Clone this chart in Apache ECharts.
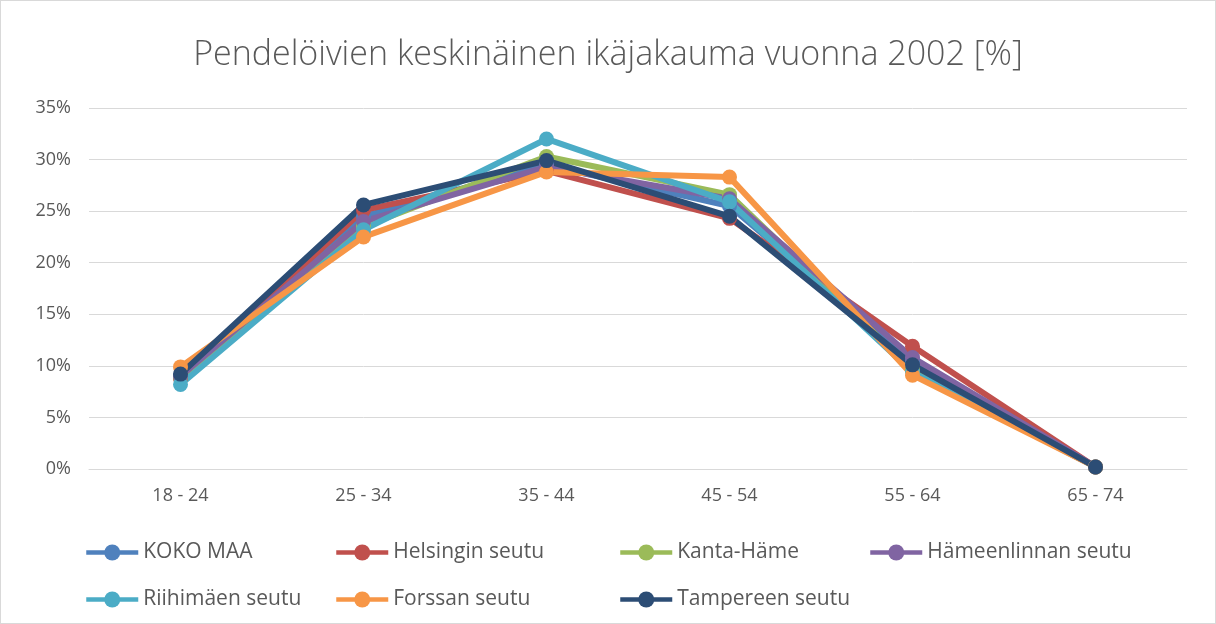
<!DOCTYPE html>
<html>
<head>
<meta charset="utf-8">
<script src="https://cdn.jsdelivr.net/npm/echarts@6/dist/echarts.min.js"></script>
<style>
  html, body { margin: 0; padding: 0; background: #fff; }
  #chart { width: 1216px; height: 624px; box-sizing: border-box; border: 1px solid #d9d9d9; }
</style>
</head>
<body>
<div id="chart"></div>
<script>
  const categories = ['18 - 24', '25 - 34', '35 - 44', '45 - 54', '55 - 64', '65 - 74']
  const yTicks = [0, 5, 10, 15, 20, 25, 30, 35]

  const kokoMaa = [8.9, 24.5, 29.5, 25.5, 10.5, 0.2]
  const helsinki = [8.8, 25.1, 28.9, 24.3, 11.9, 0.2]
  const kantaHame = [8.9, 23.5, 30.3, 26.6, 9.6, 0.2]
  const hameenlinna = [9.0, 24.0, 29.3, 26.2, 10.8, 0.2]
  const riihimaki = [8.2, 23.2, 32.0, 25.9, 9.4, 0.2]
  const forssa = [9.9, 22.5, 28.8, 28.3, 9.1, 0.2]
  const tampere = [9.2, 25.6, 29.9, 24.5, 10.1, 0.2]

  const seriesDefs = [
    { name: 'KOKO MAA', data: kokoMaa, color: '#4F81BD' },
    { name: 'Helsingin seutu', data: helsinki, color: '#C0504D' },
    { name: 'Kanta-Häme', data: kantaHame, color: '#9BBB59' },
    { name: 'Hämeenlinnan seutu', data: hameenlinna, color: '#8064A2' },
    { name: 'Riihimäen seutu', data: riihimaki, color: '#4BACC6' },
    { name: 'Forssan seutu', data: forssa, color: '#F79646' },
    { name: 'Tampereen seutu', data: tampere, color: '#2C4D75' }
  ]

  // legend slots, Excel style columns
  const legendPos = [
    [83, 541], [333, 541], [617, 541], [867, 541],
    [83, 588], [333, 588], [617, 588]
  ]

  const font = '"Open Sans", "Liberation Sans", sans-serif'

  const chart = echarts.init(document.getElementById('chart'))
  chart.setOption({
    animation: false,
    title: {
      text: 'Pendelöivien keskinäinen ikäjakauma vuonna 2002 [%]',
      left: 'center',
      top: 32,
      textStyle: { color: '#595959', fontSize: 34, fontWeight: 300, fontFamily: font }
    },
    legend: seriesDefs.map((s, i) => ({
      data: [s.name],
      left: legendPos[i][0],
      top: legendPos[i][1],
      itemWidth: 52,
      itemHeight: 20,
      itemGap: 0,
      lineStyle: { width: 4.5 },
      textStyle: { color: '#595959', fontSize: 21, fontFamily: font },
      padding: 0
    })),
    grid: { left: 88, right: 28, top: 107, bottom: 154 },
    xAxis: {
      type: 'category',
      data: categories,
      boundaryGap: true,
      axisTick: { show: false },
      axisLine: { lineStyle: { color: '#d9d9d9', width: 1 } },
      axisLabel: { color: '#595959', fontSize: 18, fontFamily: font, margin: 18 }
    },
    yAxis: {
      type: 'value',
      min: yTicks[0],
      max: yTicks[yTicks.length - 1],
      interval: 5,
      axisLine: { show: false },
      axisTick: { show: false },
      splitLine: { lineStyle: { color: '#d9d9d9', width: 1 } },
      axisLabel: { color: '#595959', fontSize: 18, fontFamily: font, margin: 18, formatter: '{value}%' }
    },
    series: seriesDefs.map(s => ({
      name: s.name,
      type: 'line',
      data: s.data,
      color: s.color,
      symbol: 'circle',
      symbolSize: 15,
      lineStyle: { width: 6, color: s.color },
      itemStyle: { color: s.color }
    }))
  })
</script>
</body>
</html>
